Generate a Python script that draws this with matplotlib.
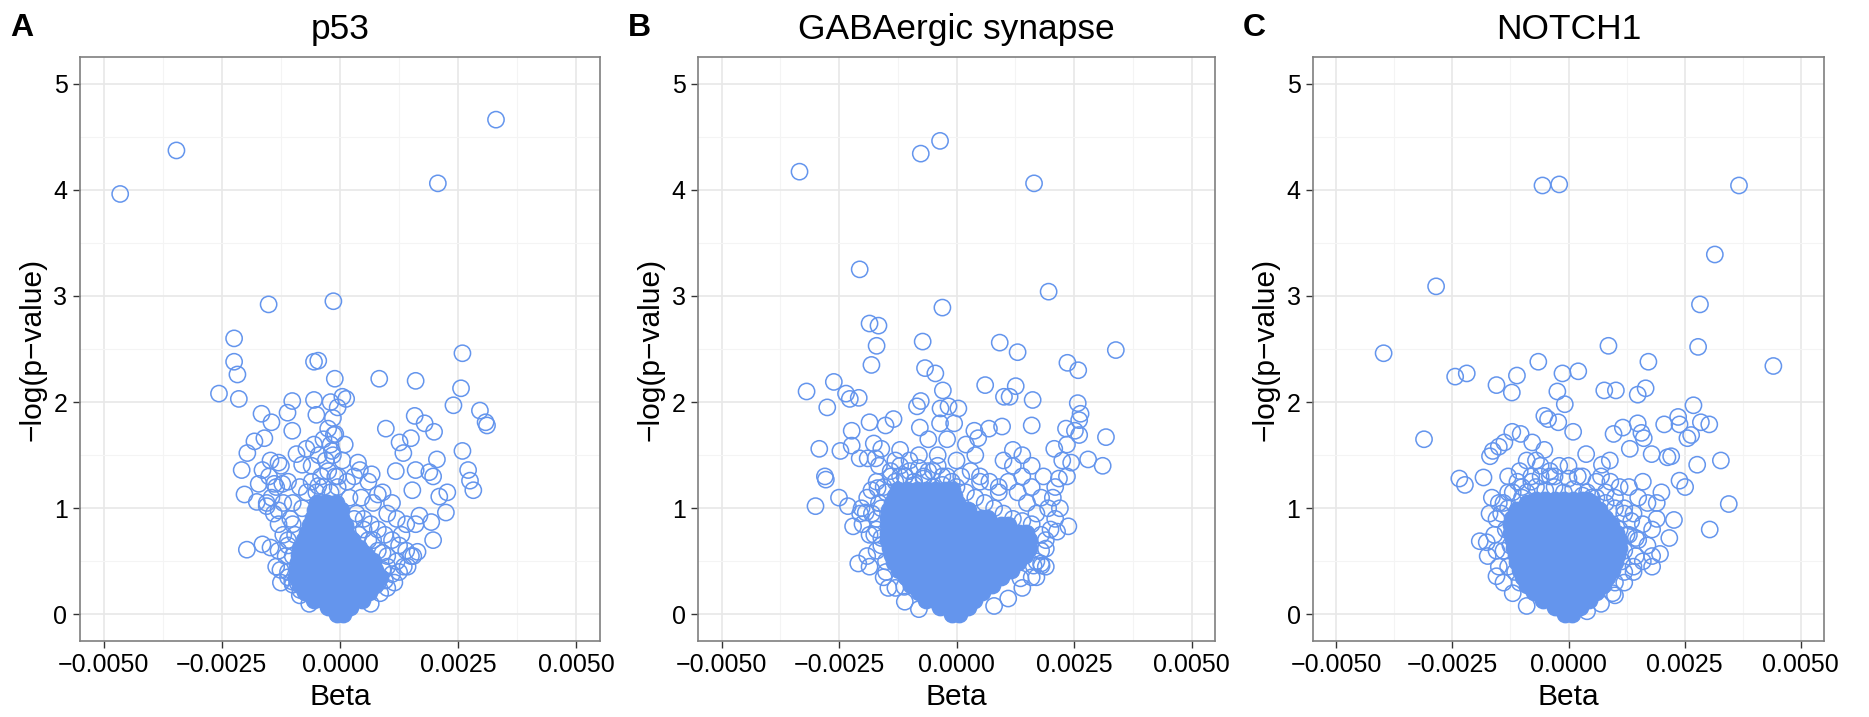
import matplotlib
matplotlib.use("Agg")
import matplotlib.pyplot as plt
from matplotlib.ticker import FixedLocator, FuncFormatter

plt.rcParams['font.family'] = ['Liberation Sans', 'DejaVu Sans']

DPI = 100
BLUE = '#6495ED'

titles = ['p53', 'GABAergic synapse', 'NOTCH1']
letters = ['A', 'B', 'C']
x_ticks = [-0.005, -0.0025, 0.0, 0.0025, 0.005]
x_minor = [-0.00375, -0.00125, 0.00125, 0.00375]
y_ticks = [0, 1, 2, 3, 4, 5]
y_minor = [0.5, 1.5, 2.5, 3.5, 4.5]

# (beta * 1e4, -log p) for the separately visible points of each panel
p53_points = [
    (-46.5, 3.96), (-34.6, 4.37), (33.0, 4.66), (20.7, 4.06), (-15.1, 2.92), (-1.4, 2.95),
    (-22.4, 2.60), (-22.4, 2.38), (-21.7, 2.26), (-25.6, 2.08), (-21.4, 2.03), (-5.5, 2.38),
    (-4.6, 2.39), (-1.1, 2.22), (8.3, 2.22), (16.0, 2.20), (25.9, 2.46), (25.6, 2.13),
    (24.0, 1.97), (29.6, 1.92), (30.8, 1.81), (31.1, 1.78), (25.9, 1.54), (27.1, 1.36),
    (27.5, 1.26), (28.2, 1.17), (20.5, 1.46), (19.9, 1.72), (17.9, 1.80), (15.8, 1.87),
    (9.7, 1.75), (15.0, 1.66), (12.6, 1.62), (13.4, 1.52), (11.8, 1.35), (16.0, 1.36),
    (15.3, 1.17), (18.9, 1.34), (19.7, 1.30), (22.7, 1.15), (21.0, 1.11), (22.4, 0.96),
    (19.3, 0.87), (19.7, 0.70), (16.0, 0.85), (16.8, 0.93), (15.5, 0.55), (16.4, 0.59),
    (14.3, 0.45), (6.7, 1.32), (4.2, 1.36), (1.3, 2.03), (8.0, 1.13),
    (-16.6, 1.89), (-14.5, 1.81), (-16.0, 1.66), (-18.1, 1.63), (-19.6, 1.52), (-20.8, 1.36),
    (-20.2, 1.13), (-19.7, 0.61), (-17.6, 1.06), (-10.1, 2.01), (-11.1, 1.90), (-10.1, 1.73),
    (-9.2, 1.51), (-5.5, 2.02), (-5.0, 1.88), (-16.4, 1.36), (-14.7, 1.45), (-13.0, 1.43),
    (-17.2, 1.23), (-13.9, 1.23), (-12.2, 1.23), (-15.5, 1.02), (-13.0, 0.98), (-16.4, 0.66),
    (-14.7, 0.63), (-12.6, 0.42), (-10.1, 0.31), (-8.4, 0.23), (-8.0, 1.41), (-7.1, 1.56),
    (-4.6, 1.21), (-0.4, 1.30), (-1.7, 1.54), (-1.3, 1.69), (3.8, 1.43),
    (3.5, 0.95), (5, 0.9), (6.5, 0.85), (8, 0.8), (9.5, 0.75), (11, 0.7), (12.5, 0.65),
    (14, 0.6), (4, 0.75), (6, 0.7), (8, 0.6), (10, 0.55), (12, 0.5), (13.5, 0.45), (5, 0.55),
    (7, 0.5), (9, 0.42), (11, 0.38), (4.5, 1.1), (7, 1.05), (10, 0.95), (12, 0.9), (14, 0.85),
    (13, 0.75), (11, 1.05), (9, 1.15), (6, 1.25), (3, 1.3), (8, 0.3), (10, 0.25), (6, 0.35),
    (15, 0.55),
    (-9, 0.45), (-10, 0.55), (-11, 0.65), (-12, 0.75), (-13, 0.85), (-14, 0.95), (-10.5, 0.9),
    (-12, 1.05), (-13.5, 1.2), (-15, 1.3), (-11, 1.25), (-9.5, 0.75), (-14.5, 1.1),
    (-12.5, 1.4), (-10, 1.05), (-15.5, 1.05), (-11, 0.35), (-9, 0.3), (-13, 0.6), (-8.5, 1.2),
    (-5, 1.15), (-3.5, 1.2), (-2, 1.15), (-0.5, 1.2), (-4, 1.3), (-2.5, 1.35), (-1, 1.3),
    (-3, 1.45), (-1.5, 1.5), (-4.5, 1.5), (-2, 1.6), (-3.5, 1.65), (-1, 1.7), (-2.5, 1.75),
    (-1.5, 1.85), (-0.5, 1.95), (-2, 2.0), (0.5, 2.05), (-6, 1.4), (-5.5, 1.6), (0.5, 1.45),
    (1, 1.6),
    (-6.5, 0.1), (-8.5, 0.18), (-10, 0.28), (-11, 0.4), (-11.5, 0.55), (-11, 0.7), (-10, 0.85),
    (-8, 1.0), (-7, 1.15), (6.5, 0.1), (8.5, 0.2), (9.5, 0.32), (10, 0.45), (9, 0.58),
    (7, 0.7), (5, 0.8), (3, 0.9), (11.5, 0.3), (12.5, 0.4), (-12.5, 0.3), (-13.5, 0.45),
    (2, 1.1), (1.5, 1.25), (-6, 1.25),
]

# saturated centre of the cloud: (-log p, [beta * 1e4, ...])
p53_core = [
    (0.00, [-0.7, 0.7]),
    (0.07, [-2.6, -0.9, 0.8, 2.2]),
    (0.14, [-5.4, -3.4, -1.4, 0.6, 2.6, 4.6]),
    (0.21, [-7.3, -5.3, -3.3, -1.3, 0.7, 2.7, 4.7, 6.2]),
    (0.28, [-8.5, -6.5, -4.5, -2.5, -0.5, 1.5, 3.5, 5.5, 7.5]),
    (0.35, [-9.3, -7.3, -5.3, -3.3, -1.3, 0.7, 2.7, 4.7, 6.7, 8.4]),
    (0.42, [-9.2, -7.2, -5.2, -3.2, -1.2, 0.8, 2.8, 4.8, 6.8, 7.5]),
    (0.49, [-8.8, -6.8, -4.8, -2.8, -0.8, 1.2, 3.2, 5.2, 6.9]),
    (0.56, [-8.6, -6.6, -4.6, -2.6, -0.6, 1.4, 3.4, 5.6]),
    (0.63, [-8.4, -6.4, -4.4, -2.4, -0.4, 1.6, 3.6, 4.1]),
    (0.70, [-7.7, -5.7, -3.7, -1.7, 0.3, 2.6]),
    (0.77, [-7.0, -5.0, -3.0, -1.0, 1.0, 1.3]),
    (0.84, [-6.3, -4.3, -2.3, -0.3, 1.0]),
    (0.91, [-5.7, -3.7, -1.7, 0.3]),
    (0.98, [-5.2, -3.2, -1.2, 0.2]),
    (1.05, [-4.8, -2.8, -0.8]),
]

gaba_points = [
    (-33.4, 4.17), (-7.6, 4.34), (-3.5, 4.46), (16.5, 4.06), (-20.6, 3.25), (19.6, 3.04),
    (-3.0, 2.89), (-18.5, 2.74), (-16.6, 2.72), (-17.0, 2.53), (-18.1, 2.35), (-7.2, 2.57),
    (-6.7, 2.32), (-4.5, 2.27), (9.2, 2.56), (13.0, 2.47), (33.9, 2.49), (23.6, 2.37),
    (25.9, 2.30), (25.8, 1.99), (26.4, 1.89), (26.1, 1.83), (25.2, 1.73), (26.1, 1.69),
    (23.3, 1.75), (31.8, 1.67), (28.0, 1.46), (31.1, 1.40), (20.8, 1.56), (23.5, 1.60),
    (22.5, 1.45), (24.4, 1.43), (23.5, 1.30), (21.8, 1.28), (23.8, 0.83), (21.4, 0.78),
    (16.2, 2.02), (16.0, 1.78), (6.1, 2.16), (12.6, 2.15), (10.1, 2.05), (11.3, 2.05),
    (9.7, 1.77), (6.9, 1.75), (4.6, 1.66), (3.8, 1.73), (0.4, 1.94), (-1.7, 1.96),
    (-2.9, 2.11), (-3.4, 1.94), (-7.6, 2.01), (-8.4, 1.96), (-7.8, 1.76),
    (-31.9, 2.10), (-26.1, 2.19), (-27.5, 1.95), (-23.5, 2.08), (-22.7, 2.03), (-20.8, 2.04),
    (-22.3, 1.73), (-18.5, 1.81), (-15.1, 1.78), (-13.4, 1.84), (-17.6, 1.61), (-16.0, 1.56),
    (-29.2, 1.56), (-24.7, 1.54), (-22.3, 1.59), (-20.6, 1.47), (-18.9, 1.47), (-17.2, 1.47),
    (-28.0, 1.30), (-27.8, 1.27), (-30.0, 1.02), (-25.0, 1.10), (-23.1, 1.02), (-20.2, 1.00),
    (-19.3, 0.96), (-22.0, 0.83), (-20.9, 0.48), (-18.1, 1.17), (-16.8, 1.19), (-16.0, 0.72),
    (-11.1, 0.26), (18.1, 0.46), (16.4, 0.46), (13.6, 0.34),
    (-15, 0.5), (-16, 0.65), (-17, 0.8), (-18, 0.95), (-19, 1.1), (-16, 1.0), (-15, 1.15),
    (-14, 1.3), (-17, 1.25), (-13, 1.45), (-15.5, 0.35), (-14.5, 0.25), (-18.5, 0.75),
    (-20, 0.85), (-20.5, 0.95), (-16.5, 1.4), (-12, 1.55), (-10, 1.45), (-11, 1.3), (-9, 1.25),
    (-7, 1.3), (-5, 1.35), (-3, 1.3), (-1, 1.25), (1, 1.3), (3, 1.35), (5, 1.3), (7, 1.25),
    (-8, 1.5), (-4, 1.5), (0, 1.45), (4, 1.5), (-6, 1.65), (-2, 1.65), (2, 1.6), (-3.5, 1.8),
    (-0.5, 1.8),
    (17, 0.5), (18, 0.6), (19, 0.7), (20, 0.8), (21, 0.9), (19.5, 1.0), (18, 1.1), (16, 1.2),
    (14, 1.3), (12, 1.4), (10, 1.45), (17, 0.95), (15, 1.05), (13, 1.15), (11, 1.25), (9, 1.2),
    (20.5, 1.1), (22, 1.0), (21, 1.2), (18.5, 1.3), (16, 1.4), (14, 1.5), (12, 1.55),
    (17, 0.35), (19, 0.45),
    (-17, 0.6), (-17.5, 0.75), (-17, 0.9), (-16.5, 1.05), (-15.5, 1.2), (-14, 1.35),
    (-12, 1.3), (-10, 1.35), (-15, 0.4), (-13, 0.25), (-11, 0.12), (-8, 0.05), (-19, 0.55),
    (-18.5, 0.45), (0, 1.2), (2, 1.15), (4, 1.1), (6, 1.05), (8, 1.0), (10, 0.95), (12, 0.9),
    (14, 0.88), (16, 0.85), (18, 0.75), (19, 0.62), (18, 0.48), (16, 0.35), (14, 0.25),
    (11, 0.15), (8, 0.08), (5, 1.25), (9, 1.15), (-2, 1.3), (-6, 1.35),
    (-13, 1.25), (-11, 1.3), (-9, 1.22), (-7, 1.28), (-5, 1.2), (-3, 1.22), (-12, 1.4),
    (-8, 1.38), (-4, 1.4), (-1, 1.15),
]

gaba_core = [
    (0.00, [-1.0, 0.5]),
    (0.07, [-3.5, -1.5, 0.5, 2.5]),
    (0.14, [-6.5, -4.5, -2.5, -0.5, 1.5, 3.8]),
    (0.21, [-8.0, -6.0, -4.0, -2.0, 0.0, 2.0, 4.0, 5.5]),
    (0.28, [-9.6, -7.6, -5.6, -3.6, -1.6, 0.4, 2.4, 4.4, 6.4, 7.5]),
    (0.35, [-10.8, -8.8, -6.8, -4.8, -2.8, -0.8, 1.2, 3.2, 5.2, 7.2, 9.5]),
    (0.42, [-12.3, -10.3, -8.3, -6.3, -4.3, -2.3, -0.3, 1.7, 3.7, 5.7, 7.7, 9.7, 11.5]),
    (0.49, [-13.2, -11.2, -9.2, -7.2, -5.2, -3.2, -1.2, 0.8, 2.8, 4.8, 6.8, 8.8, 10.8, 13.0]),
    (0.56, [-13.8, -11.8, -9.8, -7.8, -5.8, -3.8, -1.8, 0.2, 2.2, 4.2, 6.2, 8.2, 10.2, 12.2,
            14.5]),
    (0.63, [-14.2, -12.2, -10.2, -8.2, -6.2, -4.2, -2.2, -0.2, 1.8, 3.8, 5.8, 7.8, 9.8, 11.8,
            13.8, 15.5]),
    (0.70, [-14.5, -12.5, -10.5, -8.5, -6.5, -4.5, -2.5, -0.5, 1.5, 3.5, 5.5, 7.5, 9.5, 11.5,
            13.5, 15.5]),
    (0.77, [-14.6, -12.6, -10.6, -8.6, -6.6, -4.6, -2.6, -0.6, 1.4, 3.4, 5.4, 7.4, 9.4, 11.4,
            13.4, 14.8]),
    (0.84, [-14.6, -12.6, -10.6, -8.6, -6.6, -4.6, -2.6, -0.6, 1.4, 3.4, 5.4, 7.4, 9.4, 11.0]),
    (0.91, [-14.6, -12.6, -10.6, -8.6, -6.6, -4.6, -2.6, -0.6, 1.4, 3.4, 5.4, 6.5]),
    (0.98, [-14.3, -12.3, -10.3, -8.3, -6.3, -4.3, -2.3, -0.3, 1.7, 2.5]),
    (1.05, [-13.8, -11.8, -9.8, -7.8, -5.8, -3.8, -1.8, 0.0]),
    (1.12, [-13.0, -11.0, -9.0, -7.0, -5.0, -3.0, -0.5]),
    (1.17, [-12.5, -10.5, -8.5, -6.5, -4.5, -2.5, -1.0]),
]

notch_points = [
    (-5.6, 4.04), (-2.0, 4.05), (36.7, 4.04), (31.5, 3.39), (-28.5, 3.09), (28.3, 2.92),
    (8.6, 2.53), (27.9, 2.52), (-39.8, 2.46), (44.1, 2.34), (-6.5, 2.38), (17.2, 2.38),
    (-24.4, 2.24), (-21.9, 2.27), (-11.1, 2.25), (-15.5, 2.16), (-12.2, 2.09), (-1.3, 2.27),
    (2.1, 2.29), (-2.4, 2.10), (-0.8, 1.98), (7.7, 2.11), (10.2, 2.11), (14.9, 2.07),
    (16.6, 2.13), (26.9, 1.97), (-31.1, 1.65), (20.6, 1.79), (23.6, 1.86), (23.9, 1.79),
    (28.5, 1.81), (30.3, 1.79), (25.6, 1.66), (26.4, 1.69), (27.7, 1.41), (32.8, 1.45),
    (34.5, 1.04), (30.4, 0.80), (23.9, 1.26), (25.1, 1.20), (22.1, 1.49), (21.3, 1.48),
    (17.9, 1.51), (14.9, 1.80), (15.7, 1.71), (16.2, 1.66), (11.7, 1.76), (9.7, 1.70),
    (13.2, 1.56), (8.9, 1.45), (7.2, 1.41), (3.8, 1.51), (1.0, 1.72), (-5.2, 1.87),
    (-4.4, 1.84), (-2.2, 1.81), (-7.8, 1.62), (-5.2, 1.55), (-12.1, 1.72), (-10.3, 1.70),
    (-15.0, 1.58), (-13.8, 1.62), (-16.3, 1.54), (-16.9, 1.49), (-23.5, 1.28), (-22.3, 1.22),
    (-18.3, 1.29), (-19.1, 0.69), (-17.6, 0.68), (-17.4, 0.55), (-15.5, 0.36), (19.7, 0.57),
    (21.7, 0.72), (22.7, 0.89), (10.0, 0.18),
    (-12, 0.9), (-13, 1.0), (-14, 1.05), (-13.5, 0.8), (-12.5, 0.65), (-14, 0.6), (-13, 0.45),
    (-12, 1.15), (-10, 1.2), (-8, 1.3), (-10.5, 1.35), (-9, 1.45), (-7, 1.45), (-11.5, 0.4),
    (-10.5, 0.3), (-14.5, 0.95), (-13, 1.3), (-6, 1.4),
    (3, 1.0), (5, 0.95), (7, 0.9), (9, 0.85), (11, 0.8), (13, 0.75), (15, 0.7), (17, 0.65),
    (18, 0.55), (16, 0.5), (14, 0.45), (12, 0.4), (10, 0.3), (4, 1.15), (6, 1.1), (8, 1.05),
    (10, 1.0), (12, 0.95), (14, 0.95), (16, 0.85), (18, 0.8), (19, 0.9), (17, 1.05),
    (15, 1.1), (13, 1.2), (11, 1.2), (9, 1.25), (7, 1.3), (2, 1.3), (0, 1.4), (-2, 1.4),
    (-4, 1.35), (19, 1.05), (20, 1.15), (16, 1.25), (18, 0.45),
    (-14, 0.3), (-12, 0.2), (-9, 0.08), (-15, 0.45), (-15.5, 0.6), (-16, 0.75), (-15.5, 0.9),
    (-15, 1.05), (-13, 1.15), (-11, 1.25), (-8, 1.25), (-16.5, 1.1), (-17, 0.95),
    (8, 1.15), (10, 1.1), (12, 1.0), (13.5, 0.88), (14.5, 0.72), (14.5, 0.55), (14, 0.4),
    (12, 0.3), (9.5, 0.2), (7, 0.1), (4, 0.03), (6, 1.25), (3, 1.3), (-3, 1.3), (-6, 1.3),
    (-9, 1.15), (-7, 1.2), (-5, 1.17), (-3, 1.2), (-1, 1.15), (1, 1.18), (3, 1.12),
    (5, 1.1), (-4, 1.3), (0, 1.28), (-10, 1.1), (12, 0.6), (12.5, 0.75), (11.5, 0.5),
]

notch_core = [
    (0.00, [-0.8, 0.8]),
    (0.07, [-3.0, -1.0, 1.0, 2.5]),
    (0.14, [-5.5, -3.5, -1.5, 0.5, 2.5, 4.5]),
    (0.21, [-7.5, -5.5, -3.5, -1.5, 0.5, 2.5, 4.5, 6.0]),
    (0.28, [-9.0, -7.0, -5.0, -3.0, -1.0, 1.0, 3.0, 5.0, 7.0, 7.5]),
    (0.35, [-9.9, -7.9, -5.9, -3.9, -1.9, 0.1, 2.1, 4.1, 6.1, 8.3]),
    (0.42, [-10.5, -8.5, -6.5, -4.5, -2.5, -0.5, 1.5, 3.5, 5.5, 7.5, 9.3]),
    (0.49, [-11.0, -9.0, -7.0, -5.0, -3.0, -1.0, 1.0, 3.0, 5.0, 7.0, 9.0, 10.0]),
    (0.56, [-11.4, -9.4, -7.4, -5.4, -3.4, -1.4, 0.6, 2.6, 4.6, 6.6, 8.6, 10.5]),
    (0.63, [-11.8, -9.8, -7.8, -5.8, -3.8, -1.8, 0.2, 2.2, 4.2, 6.2, 8.2, 10.2, 10.9]),
    (0.70, [-12.0, -10.0, -8.0, -6.0, -4.0, -2.0, 0.0, 2.0, 4.0, 6.0, 8.0, 10.0, 10.8]),
    (0.77, [-12.3, -10.3, -8.3, -6.3, -4.3, -2.3, -0.3, 1.7, 3.7, 5.7, 7.7, 10.2]),
    (0.84, [-12.4, -10.4, -8.4, -6.4, -4.4, -2.4, -0.4, 1.6, 3.6, 5.6, 7.6, 9.2]),
    (0.91, [-12.0, -10.0, -8.0, -6.0, -4.0, -2.0, 0.0, 2.0, 4.0, 6.0, 7.8]),
    (0.98, [-11.0, -9.0, -7.0, -5.0, -3.0, -1.0, 1.0, 3.0, 5.0, 6.5]),
    (1.05, [-9.0, -7.0, -5.0, -3.0, -1.0, 1.0, 3.0, 5.0]),
    (1.08, [-7.0, -5.0, -3.0, -1.0, 1.0, 3.0, 4.0]),
]

panels = [(p53_points, p53_core), (gaba_points, gaba_core), (notch_points, notch_core)]

# axes boxes in pixels: left, right (top 57, bottom 641)
boxes = [(80, 600), (698, 1215), (1313, 1824)]
W, H = 1869, 717
top_px, bot_px = 57, 641


def beta_fmt(v, pos):
    return '{:.4f}'.format(v).replace('-', '\u2212')


fig = plt.figure(figsize=(W / DPI, H / DPI), dpi=DPI)

for i, (pts, core) in enumerate(panels):
    l, r = boxes[i]
    ax = fig.add_axes([l / W, 1 - bot_px / H, (r - l) / W, (bot_px - top_px) / H])

    xs = [p[0] * 1e-4 for p in pts]
    ys = [p[1] for p in pts]
    cx, cy = [], []
    for y, row in core:
        for x in row:
            cx.append(x * 1e-4)
            cy.append(y)

    # where thousands of rings overlap the cloud is solid colour
    ax.scatter(cx, cy, s=137, facecolors=BLUE, edgecolors=BLUE, linewidths=1.1, zorder=3)
    ax.scatter(xs, ys, s=137, facecolors='none', edgecolors=BLUE, linewidths=1.1, zorder=3)

    ax.set_xlim(-0.0055, 0.0055)
    ax.set_ylim(-0.25, 5.25)
    ax.xaxis.set_major_locator(FixedLocator(x_ticks))
    ax.xaxis.set_minor_locator(FixedLocator(x_minor))
    ax.yaxis.set_major_locator(FixedLocator(y_ticks))
    ax.yaxis.set_minor_locator(FixedLocator(y_minor))
    ax.xaxis.set_major_formatter(FuncFormatter(beta_fmt))

    ax.set_axisbelow(True)
    ax.grid(which='major', color='#e8e8e8', lw=1.2)
    ax.grid(which='minor', color='#f4f4f4', lw=0.8)
    for sp in ax.spines.values():
        sp.set_color('#7f7f7f')
        sp.set_linewidth(1.2)

    ax.tick_params(which='major', direction='out', length=5, width=1.0,
                   color='#333333', labelsize=18, labelcolor='black', pad=4)
    ax.tick_params(which='minor', length=0)

    ax.set_xlabel('Beta', fontsize=21.5, labelpad=4)
    ax.set_ylabel('\u2212log(p\u2212value)', fontsize=21.5, labelpad=5)
    ax.set_title(titles[i], fontsize=25.5, pad=13)

    fig.text((l - 70) / W, 1 - 36.5 / H, letters[i], fontsize=23, fontweight='bold',
             va='baseline', ha='left')

fig.savefig('out.png', dpi=DPI)
